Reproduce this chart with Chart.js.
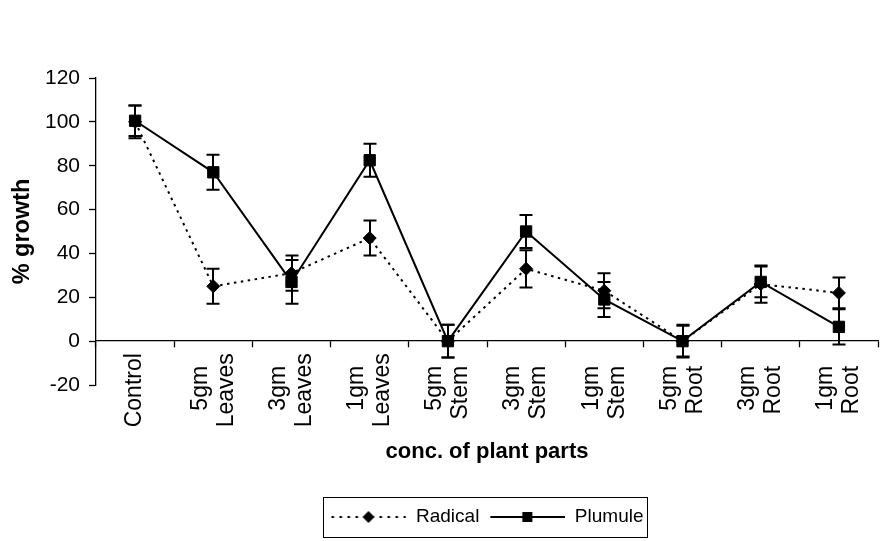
<!DOCTYPE html>
<html>
<head>
<meta charset="utf-8">
<script src="https://cdn.jsdelivr.net/npm/chart.js@4/dist/chart.umd.min.js"></script>
<style>
  html, body { margin: 0; padding: 0; background: #fff; }
  #wrap { width: 881px; height: 541px; }
</style>
</head>
<body>
<div id="wrap"><canvas id="growth" width="881" height="541"></canvas></div>
<script>
// Treatments (plant part and concentration)
const categories = [
  ["Control"],
  ["5gm", "Leaves"], ["3gm", "Leaves"], ["1gm", "Leaves"],
  ["5gm", "Stem"],   ["3gm", "Stem"],   ["1gm", "Stem"],
  ["5gm", "Root"],   ["3gm", "Root"],   ["1gm", "Root"]
];

// % growth relative to control, with error (±)
const radical    = [100, 25, 31, 47, 0, 33, 23, 0, 26, 22];
const radicalErr = [7.5, 8, 8, 8, 7.5, 8.5, 8, 7.5, 8.5, 7];
const plumule    = [100.5, 77, 27, 82.5, 0, 50, 19, 0, 27, 6.5];
const plumuleErr = [7, 8, 10, 7.5, 7.5, 7.5, 8, 7, 7, 8];

const yTicks = [-20, 0, 20, 40, 60, 80, 100, 120];

const FAMILY = "'Liberation Sans', Arial, Helvetica, sans-serif";
const TICK_SIZE = 23;
const LINE_GAP = 26;

// Pad short lines so each rotated label sits centred along its own length
function centreLabels(labels) {
  const m = document.createElement('canvas').getContext('2d');
  m.font = TICK_SIZE + 'px ' + FAMILY;
  const sp = m.measureText(' ').width;
  const widest = Math.max(...labels.flat().map(s => m.measureText(s).width));
  return labels.map(lines => {
    const padded = lines.map(s => s + ' '.repeat(Math.max(0, Math.round((widest - m.measureText(s).width) / 2 / sp))));
    return padded.length === 1 ? ['', padded[0]] : padded;
  });
}
const axisLabels = centreLabels(categories);

// Legend samples: line with its marker
function legendGlyph(dotted, diamond) {
  const c = document.createElement('canvas');
  c.width = 76; c.height = 20;
  const g = c.getContext('2d');
  g.strokeStyle = '#000'; g.fillStyle = '#000'; g.lineWidth = 2;
  if (dotted) g.setLineDash([2.5, 5.5]);
  g.beginPath(); g.moveTo(1, 10); g.lineTo(76, 10); g.stroke();
  g.setLineDash([]);
  if (diamond) {
    g.beginPath(); g.moveTo(32, 10); g.lineTo(38, 4); g.lineTo(44, 10); g.lineTo(38, 16); g.closePath(); g.fill();
  } else {
    g.fillRect(33, 5, 10, 10);
  }
  return c;
}
const glyphs = [legendGlyph(true, true), legendGlyph(false, false)];
const errors = [radicalErr, plumuleErr];

// Vertical error bars with caps, placed through the chart scales
const errorBars = {
  id: 'errorBars',
  afterDatasetsDraw(chart) {
    const ctx = chart.ctx, y = chart.scales.y;
    ctx.save();
    ctx.strokeStyle = '#000';
    ctx.lineWidth = 2;
    chart.data.datasets.forEach((ds, i) => {
      const meta = chart.getDatasetMeta(i);
      meta.data.forEach((pt, j) => {
        const v = ds.data[j], e = errors[i][j];
        const top = y.getPixelForValue(v + e), bot = y.getPixelForValue(v - e);
        const x = Math.round(pt.x);
        ctx.beginPath();
        ctx.moveTo(x, top); ctx.lineTo(x, bot);
        ctx.moveTo(x - 6.5, top); ctx.lineTo(x + 6.5, top);
        ctx.moveTo(x - 6.5, bot); ctx.lineTo(x + 6.5, bot);
        ctx.stroke();
      });
    });
    ctx.restore();
  }
};

// Thin frame around the legend row
const legendFrame = {
  id: 'legendFrame',
  afterDraw(chart) {
    const lg = chart.legend;
    if (!lg || !lg.legendHitBoxes || !lg.legendHitBoxes.length) return;
    const hb = lg.legendHitBoxes;
    const last = hb[hb.length - 1];
    const left = Math.round(hb[0].left - 7) + 0.5;
    const right = Math.round(last.left + last.width + 3) + 0.5;
    const cy = hb[0].top + hb[0].height / 2;
    const ctx = chart.ctx;
    ctx.save();
    ctx.strokeStyle = '#000';
    ctx.lineWidth = 1;
    ctx.strokeRect(left, Math.round(cy - 20) + 0.5, right - left, 40);
    ctx.restore();
  }
};

new Chart(document.getElementById('growth'), {
  type: 'line',
  data: {
    labels: axisLabels,
    datasets: [
      {
        label: 'Radical',
        data: radical,
        order: 1,
        borderColor: '#000',
        backgroundColor: '#000',
        borderWidth: 2,
        borderDash: [2.5, 4.5],
        tension: 0,
        pointStyle: 'rectRot',
        pointRadius: 6.5,
        pointBorderWidth: 1,
        pointBackgroundColor: '#000',
        pointBorderColor: '#000'
      },
      {
        label: 'Plumule',
        data: plumule,
        order: 0,
        borderColor: '#000',
        backgroundColor: '#000',
        borderWidth: 2,
        tension: 0,
        pointStyle: 'rect',
        pointRadius: 8,
        pointBorderWidth: 1,
        pointBackgroundColor: '#000',
        pointBorderColor: '#000'
      }
    ]
  },
  options: {
    responsive: false,
    animation: false,
    devicePixelRatio: 1,
    events: [],
    layout: { autoPadding: false, padding: { top: 78, right: 3, bottom: 4.5, left: 0 } },
    scales: {
      x: {
        type: 'category',
        offset: true,
        position: { y: 0 },
        afterFit(scale) {
          scale.paddingLeft = 0;
          scale.paddingRight = 0;
        },
        grid: {
          display: true, drawOnChartArea: false, offset: true,
          drawTicks: true, tickLength: 6, tickColor: '#000', tickWidth: 1.3
        },
        border: { display: true, color: '#000', width: 1.3 },
        ticks: {
          autoSkip: false,
          minRotation: 90, maxRotation: 90,
          padding: 6,
          labelOffset: -LINE_GAP / 2,
          color: '#000',
          font: (c) => ({
            family: FAMILY,
            size: TICK_SIZE,
            lineHeight: (c.index === 0 ? LINE_GAP / 2 : LINE_GAP) + 'px'
          })
        }
      },
      y: {
        min: yTicks[0],
        max: yTicks[yTicks.length - 1],
        afterFit(scale) { scale.width = 96; },
        grid: { drawOnChartArea: false, tickLength: 7, tickColor: '#000', tickWidth: 1.3 },
        border: { display: true, color: '#000', width: 1.3 },
        ticks: {
          stepSize: yTicks[1] - yTicks[0],
          padding: 9,
          color: '#000',
          font: { family: FAMILY, size: 21 }
        },
        title: {
          display: true,
          text: '% growth',
          color: '#000',
          font: { family: FAMILY, size: 23.5, weight: 'bold' },
          padding: { top: 8, bottom: 0 }
        }
      }
    },
    plugins: {
      tooltip: { enabled: false },
      title: {
        display: true,
        position: 'bottom',
        fullSize: false,
        weight: 500,
        text: 'conc. of plant parts',
        color: '#000',
        font: { family: FAMILY, size: 22, weight: 'bold' },
        padding: { top: 53.8, bottom: 32.3 }
      },
      legend: {
        position: 'bottom',
        fullSize: false,
        labels: {
          usePointStyle: true,
          pointStyleWidth: 76,
          padding: 10,
          color: '#000',
          font: { family: FAMILY, size: 19 },
          sort: (a, b) => a.datasetIndex - b.datasetIndex,
          generateLabels(chart) {
            const items = Chart.defaults.plugins.legend.labels.generateLabels(chart);
            items.forEach(it => { it.pointStyle = glyphs[it.datasetIndex]; });
            return items;
          }
        }
      }
    }
  },
  plugins: [errorBars, legendFrame]
});
</script>
</body>
</html>
